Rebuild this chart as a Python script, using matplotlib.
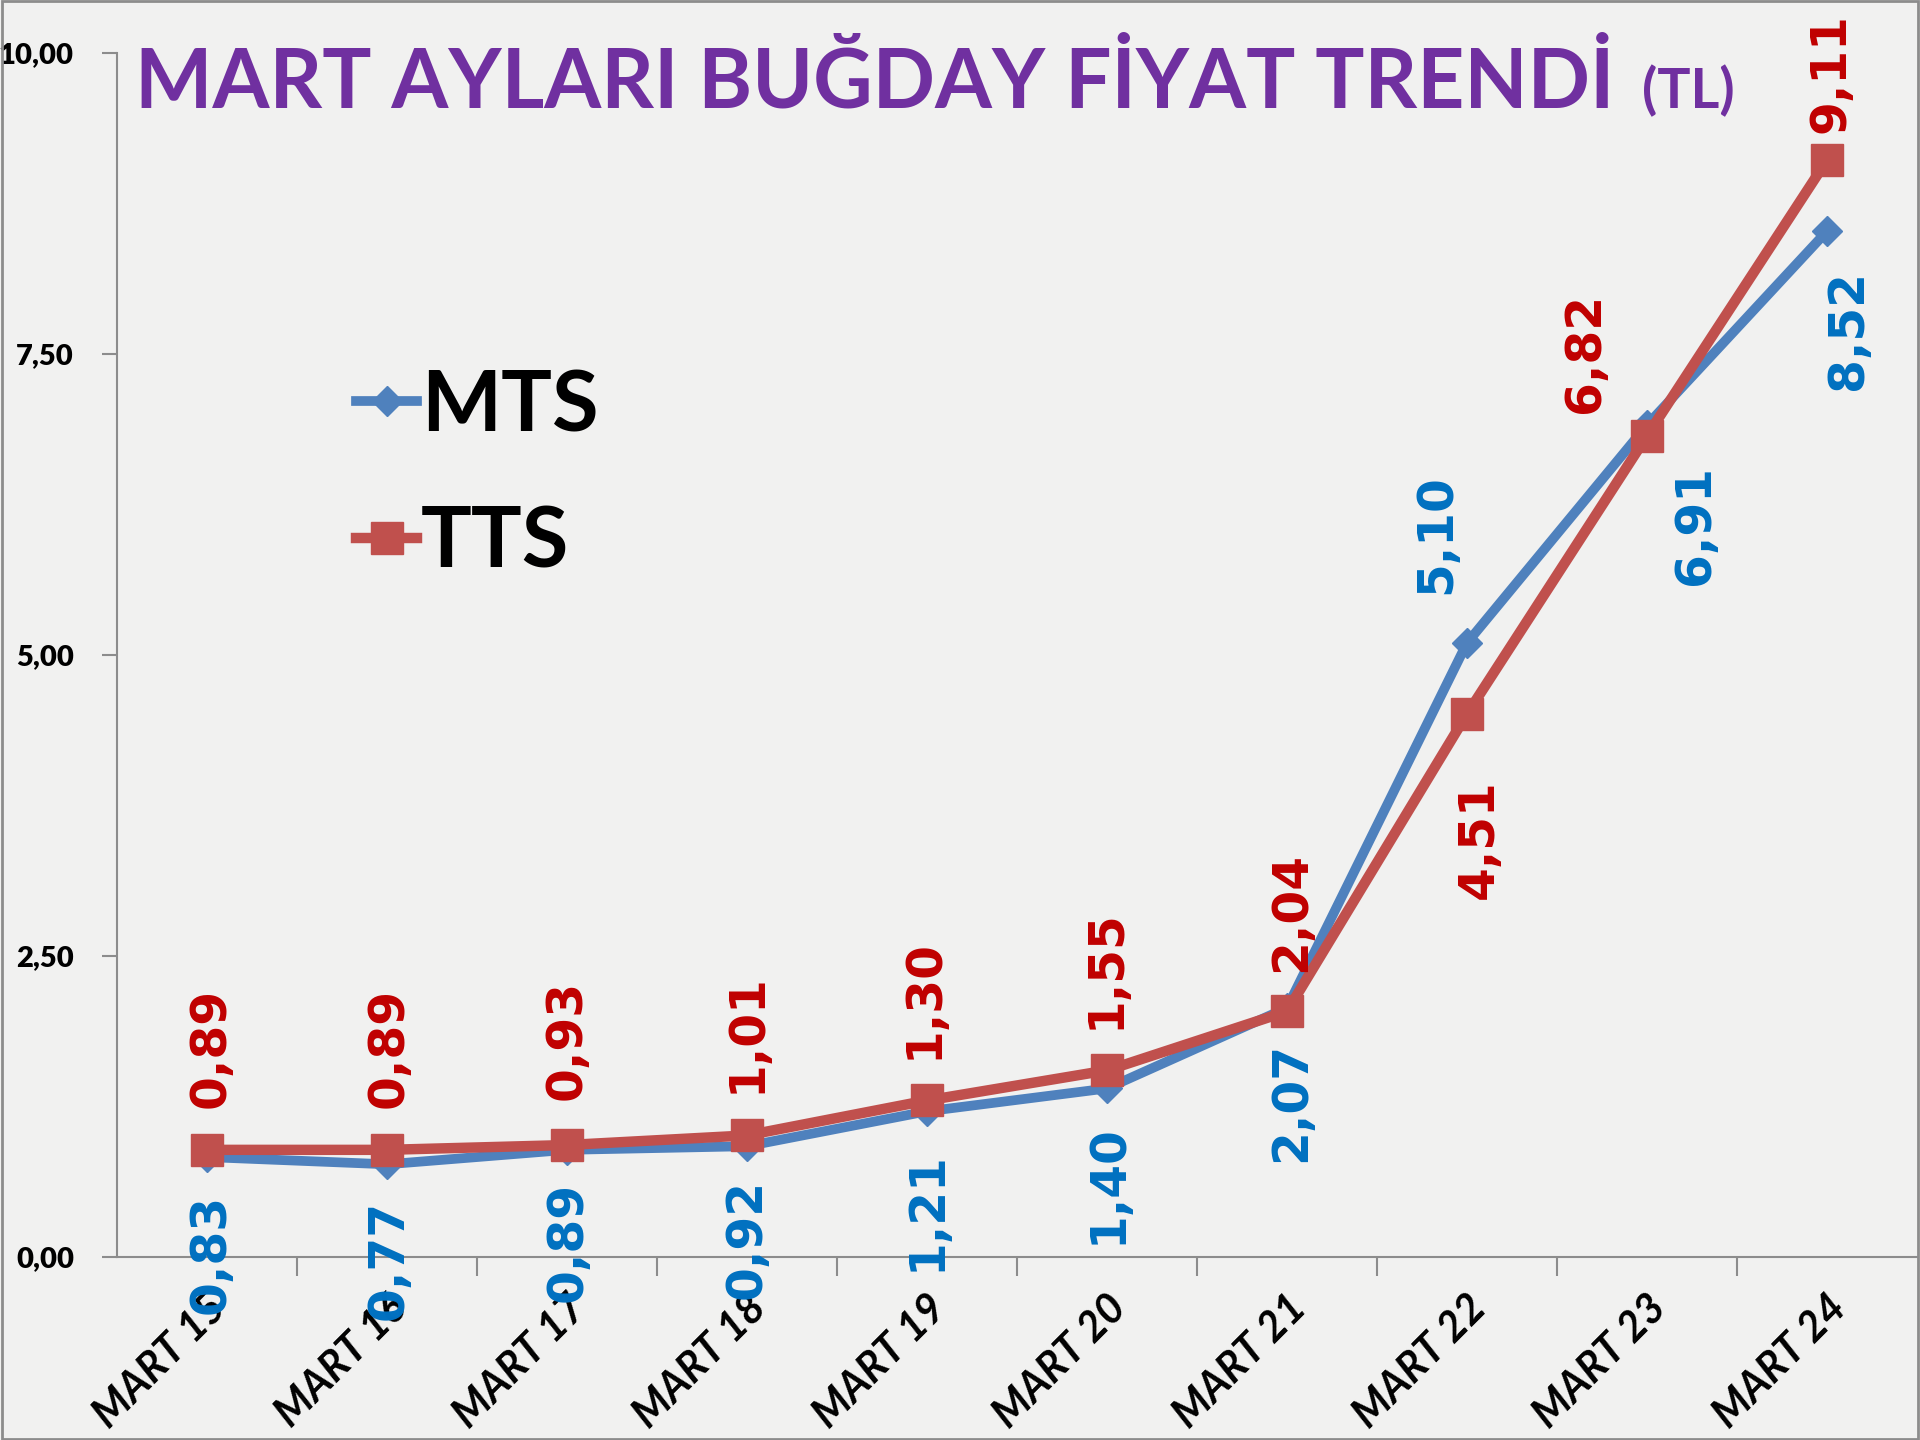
import matplotlib
matplotlib.use('Agg')
import matplotlib.pyplot as plt
from matplotlib.patches import Rectangle

# Data ------------------------------------------------------------------
categories = ['MART 15', 'MART 16', 'MART 17', 'MART 18', 'MART 19',
              'MART 20', 'MART 21', 'MART 22', 'MART 23', 'MART 24']
mts = [0.83, 0.77, 0.89, 0.92, 1.21, 1.40, 2.07, 5.10, 6.91, 8.52]
tts = [0.89, 0.89, 0.93, 1.01, 1.30, 1.55, 2.04, 4.51, 6.82, 9.11]
yticks = [0, 2.5, 5, 7.5, 10]

# label offsets (pixels) from the point: + above, - below
tts_dx = [4, 2, 0, 0, -3, -1, 4, 12, -62, 4]
tts_dy = [42, 42, 45, 42, 41, 41, 39, -65, 23, 27]
mts_dx = [4, 2, 1, 0, 0, 1, 4, -31, 48, 21]
mts_dy = [-37, -36, -32, -33, -40, -36, -34, 49, -40, -39]

BLUE_LINE = '#4f81bd'
RED_LINE = '#c0504d'
BLUE_TXT = '#0070c0'
RED_TXT = '#c00000'
PURPLE = '#7030a0'
GRAY = '#8c8c8c'

fig = plt.figure(figsize=(19.2, 14.4), dpi=100, facecolor='#f1f1f0')
ax = fig.add_axes([117/1920, 1-1257/1440, 1800/1920, 1204/1440])
ax.set_facecolor('none')

x = list(range(len(categories)))
ax.plot(x, mts, color=BLUE_LINE, lw=7, marker='D', ms=15, label='MTS', zorder=3,
        solid_joinstyle='miter')
ax.plot(x, tts, color=RED_LINE, lw=7.5, marker='s', ms=23, label='TTS', zorder=4,
        solid_joinstyle='miter')

def fmt(v):
    return ('%.2f' % v).replace('.', ',')

for i in x:
    for vals, dxs, dys, col in ((tts, tts_dx, tts_dy, RED_TXT), (mts, mts_dx, mts_dy, BLUE_TXT)):
        dy = dys[i]
        ax.annotate(fmt(vals[i]), xy=(i, vals[i]), xytext=(dxs[i], dy),
                    textcoords='offset pixels', rotation=90, ha='center',
                    va='bottom' if dy > 0 else 'top', fontsize=35,
                    fontweight='bold', color=col, zorder=5)

ax.set_xlim(-0.5, len(categories) - 0.5)
ax.set_ylim(0, 10)
ax.set_yticks(yticks)
ax.set_yticklabels([fmt(v) for v in yticks], fontfamily='Lato', fontweight='heavy',
                   fontsize=21)
ax.set_xticks(x)
ax.set_xticklabels(categories, rotation=45, ha='right', va='top',
                   rotation_mode='anchor', fontfamily='Lato', fontweight='bold',
                   fontstyle='italic', fontsize=30)
ax.set_xticks([i + 0.5 for i in x[:-1]], minor=True)
ax.tick_params(axis='x', which='major', length=0, pad=23)
ax.tick_params(axis='x', which='minor', length=14, width=1.5, color=GRAY)
ax.tick_params(axis='y', length=11, width=1.5, color=GRAY, pad=20)

for s in ['top', 'right']:
    ax.spines[s].set_visible(False)
for s in ['left', 'bottom']:
    ax.spines[s].set_color(GRAY)
    ax.spines[s].set_linewidth(1.5)

leg = ax.legend(loc='upper left', bbox_to_anchor=(356/1920, 1-368/1440),
                bbox_transform=fig.transFigure, frameon=False,
                prop={'family': 'Lato', 'weight': 'bold', 'size': 61},
                handlelength=0.72, handletextpad=0.05, labelspacing=0.7,
                borderpad=0, borderaxespad=0)

title = fig.text(135/1920, 1-108/1440, 'MART AYLARI BUĞDAY FİYAT TRENDİ', fontfamily='Lato',
                 fontweight='bold', fontsize=59, color=PURPLE, va='baseline', ha='left')
fig.canvas.draw()
tb = title.get_window_extent()
fig.text((tb.x1 + 28) / 1920, 1-108/1440, '(TL)', fontfamily='Lato', fontweight='bold',
         fontsize=40, color=PURPLE, va='baseline', ha='left')

fig.patches.append(Rectangle((0.001, 0.001), 0.998, 0.998, transform=fig.transFigure,
                             fill=False, edgecolor='#8c8c8c', lw=2))

fig.savefig('out.png', dpi=100, facecolor=fig.get_facecolor())
